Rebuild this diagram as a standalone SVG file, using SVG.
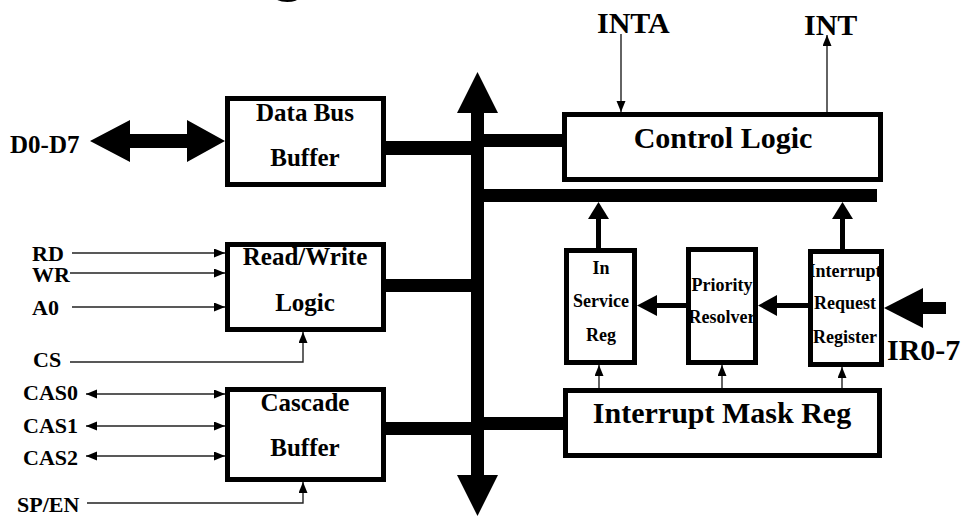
<svg xmlns="http://www.w3.org/2000/svg" width="961" height="516" viewBox="0 0 961 516">
  <style>
    text { font-family: "Liberation Serif", "Times New Roman", serif; font-weight: bold; fill: #000; }
    .box { fill: #fff; stroke: #000; stroke-width: 5; }
    .frame { fill: none; stroke: #000; stroke-width: 5; }
    .c { text-anchor: middle; }
    .big { font-size: 30px; }
    .mid { font-size: 25px; }
    .sm { font-size: 18px; }
    .pin { font-size: 22px; }
    .wire { fill: none; stroke: #222; stroke-width: 1.4; }
    .one { marker-end: url(#ah); }
    .two { marker-start: url(#ah); marker-end: url(#ah); }
    .thick { fill: #000; }
  </style>
  <defs>
    <marker id="ah" markerUnits="userSpaceOnUse" markerWidth="12" markerHeight="10" refX="11" refY="4.5" orient="auto-start-reverse">
      <path d="M0,0 L11,4.5 L0,9 Z" fill="#000"/>
    </marker>
  </defs>

  <!-- title descender, clipped by the top edge -->
  <text x="273" y="-11" style="font-size:60px">g</text>

  <!-- internal bus and thick connectors -->
  <g id="connectors">
    <rect class="thick" x="471" y="112" width="13" height="364"/>
    <polygon class="thick" points="477.5,72 457,113 498,113"/>
    <polygon class="thick" points="457,475 498,475 477.5,516"/>
    <rect class="thick" x="386" y="141" width="86" height="14"/>
    <rect class="thick" x="484" y="134" width="79" height="13"/>
    <rect class="thick" x="484" y="189" width="393" height="13"/>
    <rect class="thick" x="386" y="279" width="86" height="13"/>
    <rect class="thick" x="386" y="422" width="86" height="13"/>
    <rect class="thick" x="484" y="417" width="80" height="13"/>

    <!-- D0-D7 bidirectional data path -->
    <polygon class="thick" points="90,141 130,120 130,134 187,134 187,120 225,141 187,162 187,148 130,148 130,162"/>

    <!-- register outputs to the internal bar -->
    <rect class="thick" x="596" y="218" width="5" height="31"/>
    <polygon class="thick" points="598.5,202 588,219 609,219"/>
    <rect class="thick" x="840" y="218" width="5" height="32"/>
    <polygon class="thick" points="842.5,202 832,219 853,219"/>

    <!-- IRR -> Priority -> ISR -->
    <rect class="thick" x="656" y="303" width="31" height="5"/>
    <polygon class="thick" points="637,305.5 657,295 657,316"/>
    <rect class="thick" x="776" y="303" width="33" height="5"/>
    <polygon class="thick" points="758,305.5 777,295 777,316"/>

    <!-- IR0-7 input -->
    <rect class="thick" x="922" y="302" width="24" height="12"/>
    <polygon class="thick" points="884,308 923,288 923,328"/>

    <!-- thin signal lines -->
    <line class="wire one" x1="621" y1="34" x2="621" y2="112"/>
    <line class="wire one" x1="827" y1="112" x2="827" y2="35"/>
    <line class="wire one" x1="72" y1="253" x2="225" y2="253"/>
    <line class="wire one" x1="70" y1="273" x2="225" y2="273"/>
    <line class="wire one" x1="72" y1="307" x2="225" y2="307"/>
    <path class="wire one" d="M70,362 H303 V332"/>
    <line class="wire two" x1="86" y1="394" x2="225" y2="394"/>
    <line class="wire two" x1="86" y1="426" x2="225" y2="426"/>
    <line class="wire two" x1="86" y1="456" x2="225" y2="456"/>
    <path class="wire one" d="M87,503 H303 V482"/>
    <line class="wire one" x1="599" y1="388" x2="599" y2="365"/>
    <line class="wire one" x1="722" y1="388" x2="722" y2="365"/>
    <line class="wire one" x1="842" y1="388" x2="842" y2="367"/>
  </g>

  <!-- pin labels -->
  <g id="pins">
    <text class="mid" x="10" y="153">D0-D7</text>
    <text class="pin" x="32" y="261">RD</text>
    <text class="pin" x="32" y="282">WR</text>
    <text class="pin" x="32" y="315">A0</text>
    <text class="pin" x="33" y="367">CS</text>
    <text class="pin" x="23" y="400">CAS0</text>
    <text class="pin" x="23" y="433">CAS1</text>
    <text class="pin" x="23" y="465">CAS2</text>
    <text class="pin" x="17" y="512">SP/EN</text>
    <text class="big" x="597" y="33">INTA</text>
    <text class="big" x="804" y="35">INT</text>
    <text class="big" x="887" y="360">IR0-7</text>
  </g>

  <g id="data-bus-buffer">
    <rect class="box" x="227.5" y="98.5" width="156" height="86"/>
    <text class="mid c" x="305" y="121">Data Bus</text>
    <text class="mid c" x="305" y="166">Buffer</text>
  </g>

  <g id="read-write-logic">
    <rect class="box" x="227.5" y="244.5" width="156" height="85"/>
    <text class="mid c" x="305" y="265">Read/Write</text>
    <text class="mid c" x="305" y="311">Logic</text>
  </g>

  <g id="cascade-buffer">
    <rect class="box" x="227.5" y="389.5" width="156" height="90"/>
    <text class="mid c" x="305" y="411">Cascade</text>
    <text class="mid c" x="305" y="456">Buffer</text>
  </g>

  <g id="control-logic">
    <rect class="box" x="564.5" y="114.5" width="316" height="65"/>
    <text class="big c" x="723" y="148">Control Logic</text>
  </g>

  <g id="in-service-reg">
    <rect class="box" x="566.5" y="250.5" width="68" height="112"/>
    <text class="sm c" x="601" y="274">In</text>
    <text class="sm c" x="601" y="307">Service</text>
    <text class="sm c" x="601" y="341">Reg</text>
    <rect class="frame" x="566.5" y="250.5" width="68" height="112"/>
  </g>

  <g id="priority-resolver">
    <rect class="box" x="688.5" y="249.5" width="67" height="113"/>
    <text class="sm c" x="722" y="291">Priority</text>
    <text class="sm c" x="722" y="323">Resolver</text>
    <rect class="frame" x="688.5" y="249.5" width="67" height="113"/>
  </g>

  <g id="interrupt-request-register">
    <rect class="box" x="810.5" y="251.5" width="71" height="113"/>
    <text class="sm c" x="845" y="277">Interrupt</text>
    <text class="sm c" x="845" y="309">Request</text>
    <text class="sm c" x="845" y="343">Register</text>
    <rect class="frame" x="810.5" y="251.5" width="71" height="113"/>
  </g>

  <g id="interrupt-mask-reg">
    <rect class="box" x="565.5" y="390.5" width="314" height="65"/>
    <text class="big c" x="722" y="423">Interrupt Mask Reg</text>
  </g>
</svg>
